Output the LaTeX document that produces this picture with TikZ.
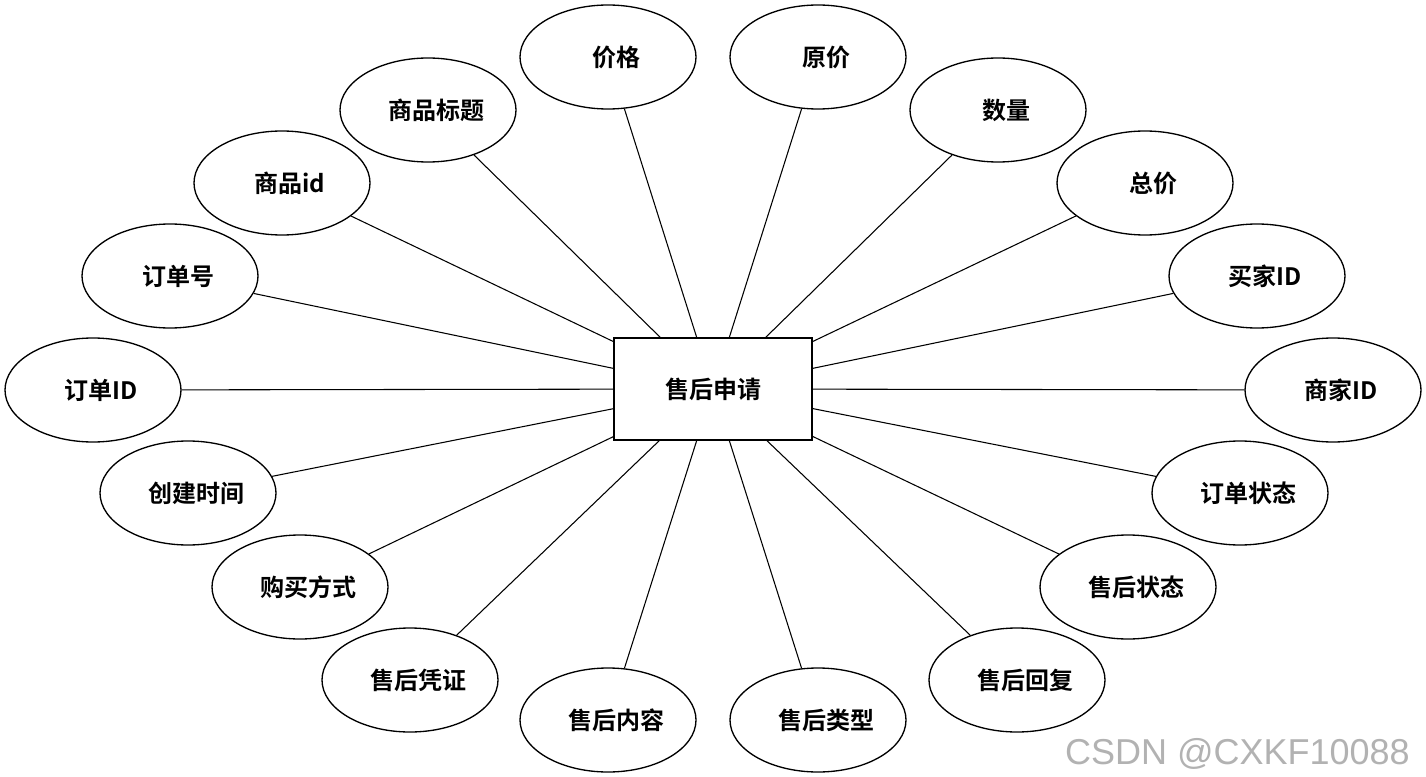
\documentclass[tikz,border=0pt]{standalone}
\usepackage{fontspec}
\newfontfamily\cjk{Noto Sans CJK SC}[BoldFont={* Bold}]
\usetikzlibrary{shapes.geometric}

\tikzset{
    attr/.style={ellipse,draw,line width=1pt,fill=white,minimum width=132pt,minimum height=78pt,inner sep=0pt,font=\cjk\bfseries\fontsize{18}{20}\selectfont},
    entity/.style={rectangle,draw,line width=1pt,fill=white,minimum width=148.5pt,minimum height=76.5pt,font=\cjk\bfseries\fontsize{18}{20}\selectfont},
    link/.style={line width=0.8pt}
}

\begin{document}
\begin{tikzpicture}[x=0.75pt,y=0.75pt,yscale=-1,xscale=1]
    \useasboundingbox (0,0) rectangle (1426,777);

    % entity
    \node[entity] (sh) at (713,389) {售后申请};

    % attributes
    \node[attr] (jg)   at (608,57)  {\hspace{12pt}价格};
    \node[attr] (yj)   at (818,57)  {\hspace{12pt}原价};
    \node[attr] (spbt) at (428,110) {\hspace{12pt}商品标题};
    \node[attr] (sl)   at (998,110) {\hspace{12pt}数量};
    \node[attr] (spid) at (282,183) {\hspace{12pt}商品id};
    \node[attr] (zj)   at (1145,183){\hspace{12pt}总价};
    \node[attr] (ddh)  at (170,276) {\hspace{12pt}订单号};
    \node[attr] (mjid) at (1257,276){\hspace{12pt}买家ID};
    \node[attr] (ddid) at (93,390)  {\hspace{12pt}订单ID};
    \node[attr] (sjid) at (1333,390){\hspace{12pt}商家ID};
    \node[attr] (cjsj) at (188,493) {\hspace{12pt}创建时间};
    \node[attr] (ddzt) at (1240,493){\hspace{12pt}订单状态};
    \node[attr] (mmfs) at (300,587) {\hspace{12pt}购买方式};
    \node[attr] (shzt) at (1128,587){\hspace{12pt}售后状态};
    \node[attr] (shpz) at (410,680) {\hspace{12pt}售后凭证};
    \node[attr] (shhf) at (1017,680){\hspace{12pt}售后回复};
    \node[attr] (shnr) at (608,720) {\hspace{12pt}售后内容};
    \node[attr] (shlx) at (818,720) {\hspace{12pt}售后类型};

    % connectors
    \foreach \a in {jg,yj,spbt,sl,spid,zj,ddh,mjid,ddid,sjid,cjsj,ddzt,mmfs,shzt,shpz,shhf,shnr,shlx}
        \draw[link] (\a) -- (sh);

    % watermark
    \node[anchor=south east,text=black!30,font=\fontspec{Liberation Sans}\fontsize{27}{30}\selectfont,inner sep=0pt] (wm) at (1410,770) {CSDN @CXKF10088};
\end{tikzpicture}
\end{document}
